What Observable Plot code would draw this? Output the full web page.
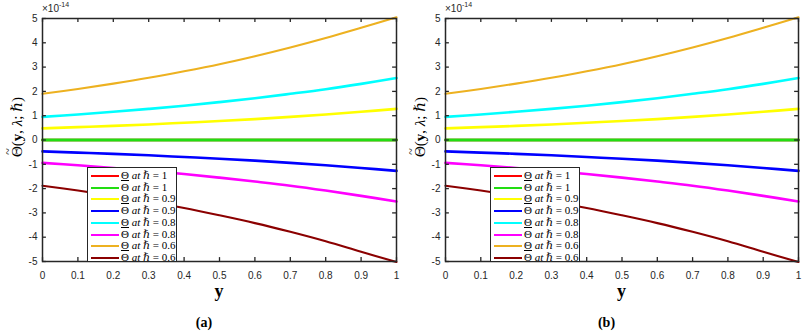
<!DOCTYPE html>
<html>
<head>
<meta charset="utf-8">
<script src="https://cdn.jsdelivr.net/npm/d3@7"></script>
<script src="https://cdn.jsdelivr.net/npm/@observablehq/plot@0.6"></script>
<style>
  html, body { margin: 0; padding: 0; background: #fff; }
  #root { position: relative; width: 812px; height: 333px; overflow: hidden; background: #fff; }
  .panel { position: absolute; top: 0; }
  .ov { position: absolute; white-space: nowrap; color: #262626; }
  .exp { font-family: "Liberation Sans", Arial, sans-serif; font-size: 10px; }
  .exp sup { font-size: 7px; vertical-align: 5px; }
  .ylab { font-family: "Liberation Serif", "DejaVu Serif", serif; font-size: 15px; transform: translate(-50%, -50%) rotate(-90deg); color: #000; line-height: 18px; }
  .tl { position: relative; display: inline-block; }
  .tl .tilde { position: absolute; left: 0; right: 0; top: -6px; text-align: center; font-size: 12px; line-height: 12px; }
  .xlab { font-family: "Liberation Serif", "DejaVu Serif", serif; font-size: 18px; font-weight: bold; transform: translate(-50%, -50%); color: #000; }
  .cap { font-family: "Liberation Serif", "DejaVu Serif", serif; font-size: 14px; font-weight: bold; transform: translate(-50%, -50%); color: #000; }
  .legend { position: absolute; background: #fff; border: 1.3px solid #262626; box-sizing: border-box; }
  .lrow { position: absolute; left: 0; height: 12px; }
  .lline { position: absolute; left: 3px; width: 28px; top: 5px; height: 2px; }
  .ltxt { position: absolute; left: 33px; top: -1px; font-family: "Liberation Serif", "DejaVu Serif", serif; font-size: 11px; color: #000; white-space: nowrap; line-height: 12px; }
  .ul { text-decoration: underline; }
  .ol { text-decoration: overline; }
</style>
</head>
<body>
<div id="root"></div>
<script>
// ---- data (values in units of 1e-14) ----
const xValues = [0, 0.1, 0.2, 0.3, 0.4, 0.5, 0.6, 0.7, 0.8, 0.9, 1];
const xTickValues = [0, 0.1, 0.2, 0.3, 0.4, 0.5, 0.6, 0.7, 0.8, 0.9, 1];
const yTickValues = [-5, -4, -3, -2, -1, 0, 1, 2, 3, 4, 5];

const seriesNames = ["under_h1", "bar_h1", "under_h09", "bar_h09", "under_h08", "bar_h08", "under_h06", "bar_h06"];
const seriesColors = ["#ff0000", "#22dd11", "#ffff00", "#0000ff", "#00ffff", "#ff00ff", "#edb120", "#8b0000"];
const legendH = ["1", "1", "0.9", "0.9", "0.8", "0.8", "0.6", "0.6"];
const legendMark = ["ul", "ol", "ul", "ol", "ul", "ol", "ul", "ol"];

const under_h1  = [0, 0, 0, 0, 0, 0, 0, 0, 0, 0, 0];
const bar_h1    = [0, 0, 0, 0, 0, 0, 0, 0, 0, 0, 0];
const under_h09 = [0.48, 0.53, 0.58, 0.64, 0.71, 0.78, 0.86, 0.95, 1.05, 1.16, 1.28];
const bar_h09   = [-0.47, -0.52, -0.57, -0.63, -0.70, -0.77, -0.85, -0.94, -1.04, -1.15, -1.27];
const under_h08 = [0.95, 1.05, 1.16, 1.28, 1.41, 1.56, 1.72, 1.90, 2.09, 2.31, 2.55];
const bar_h08   = [-0.94, -1.04, -1.15, -1.27, -1.40, -1.55, -1.71, -1.88, -2.08, -2.30, -2.53];
const under_h06 = [1.90, 2.10, 2.32, 2.56, 2.83, 3.12, 3.45, 3.81, 4.20, 4.62, 5.05];
const bar_h06   = [-1.88, -2.08, -2.30, -2.54, -2.80, -3.10, -3.42, -3.78, -4.17, -4.60, -5.02];

const seriesValues = [under_h1, bar_h1, under_h09, bar_h09, under_h08, bar_h08, under_h06, bar_h06];
const lineWidths = [2.6, 2.8, 2.6, 2.6, 2.6, 2.6, 2.1, 2.1];

const rows = [];
seriesNames.forEach((s, i) => xValues.forEach((x, j) => rows.push({s, i, x, v: seriesValues[i][j]})));

const root = document.getElementById("root");

function makePanel(left, width, marginRight, letter) {
  const wrap = document.createElement("div");
  wrap.className = "panel";
  wrap.style.left = left + "px";
  wrap.style.width = width + "px";
  wrap.style.height = "333px";
  root.appendChild(wrap);

  const axisColor = "#262626";
  const lineMarks = seriesNames.map((s, i) =>
    Plot.line(rows.filter(r => r.s === s), {x: "x", y: "v", stroke: seriesColors[i], strokeWidth: lineWidths[i], curve: "catmull-rom"})
  );
  const chart = Plot.plot({
    width, height: 333,
    marginLeft: 42, marginRight, marginTop: 18, marginBottom: 72,
    x: {domain: [0, 1], label: null},
    y: {domain: [-5, 5], label: null},
    style: {fontFamily: "Liberation Sans, Arial, sans-serif", fontSize: "10px", color: axisColor, background: "transparent", overflow: "visible"},
    marks: [
      ...lineMarks,
      Plot.axisX({ticks: xTickValues, tickSize: 0, tickPadding: 10, tickFormat: d => String(d), label: null, fill: axisColor}),
      Plot.axisY({ticks: yTickValues, tickSize: 0, tickPadding: 5, tickFormat: d => String(d), label: null, fill: axisColor}),
      Plot.ruleX(xTickValues, {x: d => d, y1: -5, y2: -4.84, stroke: axisColor, strokeWidth: 1.3}),
      Plot.ruleX(xTickValues, {x: d => d, y1: 4.84, y2: 5, stroke: axisColor, strokeWidth: 1.3}),
      Plot.ruleY(yTickValues, {y: d => d, x1: 0, x2: 0.011, stroke: axisColor, strokeWidth: 1.3}),
      Plot.ruleY(yTickValues, {y: d => d, x1: 0.989, x2: 1, stroke: axisColor, strokeWidth: 1.3}),
      Plot.frame({stroke: axisColor, strokeWidth: 1.5})
    ]
  });
  wrap.appendChild(chart);

  const add = (cls, html, x, y) => {
    const d = document.createElement("div");
    d.className = "ov " + cls;
    d.innerHTML = html;
    d.style.left = x + "px";
    d.style.top = y + "px";
    wrap.appendChild(d);
    return d;
  };
  add("exp", "×10<sup>-14</sup>", 42, 1);
  add("ylab", '<span class="tl">Θ<span class="tilde">~</span></span>(<b>y</b>, <i>λ</i>; <i>ℏ</i>)', 17, 127);
  add("xlab", "y", 42 + (width - 42 - marginRight) / 2, 291);
  add("cap", "(" + letter + ")", 42 + (width - 42 - marginRight) / 2 - 15, 323);

  const lg = document.createElement("div");
  lg.className = "legend";
  lg.style.left = "87px";
  lg.style.top = "167px";
  lg.style.width = "90px";
  lg.style.height = "95px";
  wrap.appendChild(lg);
  seriesNames.forEach((s, i) => {
    const r = document.createElement("div");
    r.className = "lrow";
    r.style.top = (2 + i * 11.7) + "px";
    r.innerHTML = `<div class="lline" style="background:${seriesColors[i]}"></div>` +
      `<div class="ltxt"><span class="${legendMark[i]}">Θ</span> <i>at</i> <i>ℏ</i> = ${legendH[i]}</div>`;
    lg.appendChild(r);
  });
}

makePanel(0, 406, 10, "a");
makePanel(403, 409, 14, "b");
</script>
</body>
</html>
